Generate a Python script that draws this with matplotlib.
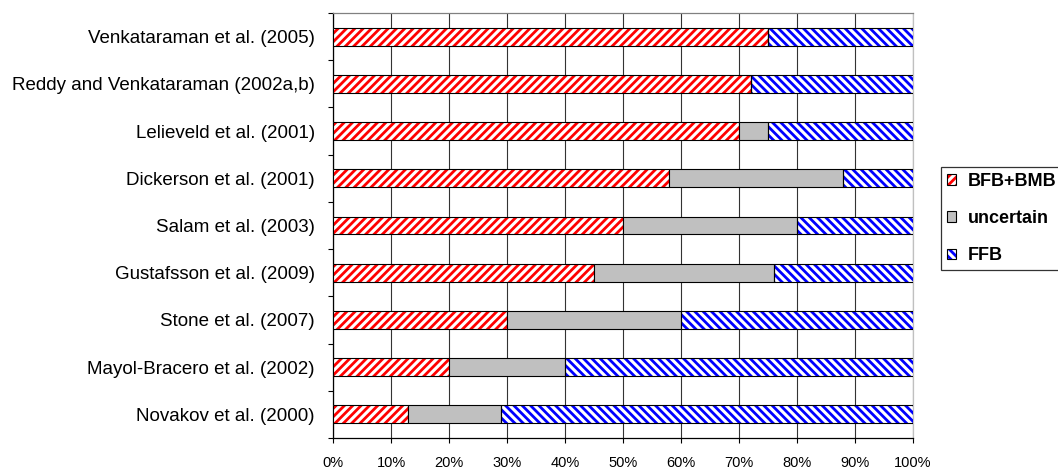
import matplotlib
matplotlib.use("Agg")
import matplotlib.pyplot as plt
from matplotlib.patches import Patch
from matplotlib.ticker import PercentFormatter, FixedLocator
import numpy as np

plt.rcParams['font.family'] = ['Liberation Sans', 'DejaVu Sans']
plt.rcParams['hatch.linewidth'] = 2.0

studies = [
    "Novakov et al. (2000)",
    "Mayol-Bracero et al. (2002)",
    "Stone et al. (2007)",
    "Gustafsson et al. (2009)",
    "Salam et al. (2003)",
    "Dickerson et al. (2001)",
    "Lelieveld et al. (2001)",
    "Reddy and Venkataraman (2002a,b)",
    "Venkataraman et al. (2005)",
]
bfb_bmb = [13, 20, 30, 45, 50, 58, 70, 72, 75]
uncertain = [16, 20, 30, 31, 30, 30, 5, 0, 0]
ffb = [71, 60, 40, 24, 20, 12, 25, 28, 25]

series = [
    ("BFB+BMB", bfb_bmb, dict(facecolor="white", hatch_color="#ff0000", hatch="////")),
    ("uncertain", uncertain, dict(facecolor="#c0c0c0", hatch_color=None, hatch=None)),
    ("FFB", ffb, dict(facecolor="white", hatch_color="#0000ff", hatch="\\\\\\\\")),
]

W, H = 1058, 469
fig = plt.figure(figsize=(W / 100, H / 100), dpi=100)
ax = fig.add_axes([333 / W, 1 - 438 / H, 580 / W, 425 / H])

y = np.arange(len(studies))
height = 0.38
edge_lw = 0.8
left = np.zeros(len(studies))
handles = []
for name, vals, st in series:
    vals = np.array(vals, dtype=float)
    if st["hatch"]:
        ax.barh(y, vals, height=height, left=left, color=st["facecolor"],
                edgecolor=st["hatch_color"], hatch=st["hatch"], linewidth=0, zorder=3)
        ax.barh(y, vals, height=height, left=left, fill=False,
                edgecolor="black", linewidth=edge_lw, zorder=4)
        handles.append((Patch(facecolor="white", edgecolor=st["hatch_color"],
                              hatch=st["hatch"], linewidth=0),
                        Patch(fill=False, edgecolor="black", linewidth=edge_lw)))
    else:
        ax.barh(y, vals, height=height, left=left, color=st["facecolor"],
                edgecolor="black", linewidth=edge_lw, zorder=4)
        handles.append(Patch(facecolor=st["facecolor"], edgecolor="black",
                             linewidth=edge_lw))
    left += vals

ax.set_xlim(0, 100)
ax.set_ylim(-0.5, len(studies) - 0.5)
ax.xaxis.set_major_locator(FixedLocator(np.arange(0, 101, 10)))
ax.xaxis.set_major_formatter(PercentFormatter(decimals=0))
ax.set_yticks(y)
ax.set_yticklabels(studies)
ax.set_yticks(np.arange(-0.5, len(studies), 1.0), minor=True)
ax.tick_params(axis='y', which='major', length=0, pad=13, labelsize=13.5)
ax.tick_params(axis='y', which='minor', length=3.6, width=0.8, color="black")
ax.tick_params(axis='x', length=3.6, width=0.8, pad=9, labelsize=10.5)

ax.grid(axis='x', color="#333333", linewidth=0.8, zorder=0)
ax.set_axisbelow(True)
ax.spines['left'].set_color("black")
ax.spines['bottom'].set_color("black")
ax.spines['top'].set_color("#808080")
ax.spines['right'].set_color("#c0c0c0")
for s in ax.spines.values():
    s.set_linewidth(0.9)

leg = fig.legend(handles=handles, labels=[s[0] for s in series], loc="upper left",
                 bbox_to_anchor=(941 / W, 1 - 167 / H),
                 prop=dict(weight="bold", size=13), frameon=True, fancybox=False,
                 edgecolor="black", handlelength=0.5, handleheight=0.5,
                 handletextpad=0.65, labelspacing=1.12, borderpad=0.32,
                 borderaxespad=0)
leg.get_frame().set_linewidth(0.9)

fig.savefig("out.png", dpi=100)
